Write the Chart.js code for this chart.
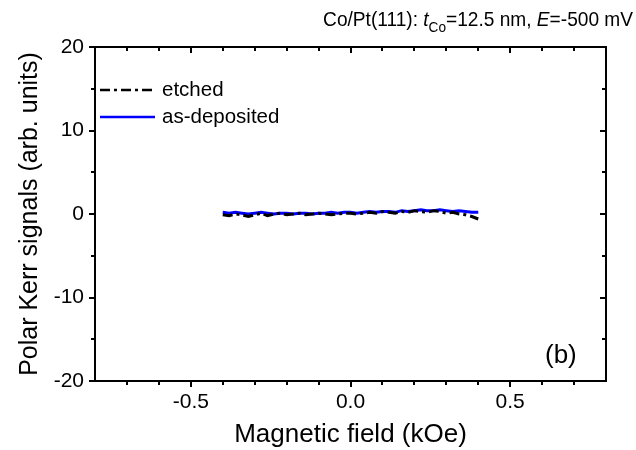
<!DOCTYPE html>
<html><head><meta charset="utf-8">
<script src="https://cdn.jsdelivr.net/npm/chart.js@4/dist/chart.umd.min.js"></script>
<style>html,body{margin:0;padding:0;background:#fff}canvas{display:block}</style>
</head><body>
<div style="width:636px;height:450px"><canvas id="c" width="636" height="450"></canvas></div>
<script>
// ---- data ----
const fieldKOe = [-0.40,-0.38,-0.36,-0.34,-0.32,-0.30,-0.28,-0.26,-0.24,-0.22,-0.20,-0.18,-0.16,-0.14,-0.12,-0.10,-0.08,-0.06,-0.04,-0.02,0.00,0.02,0.04,0.06,0.08,0.10,0.12,0.14,0.16,0.18,0.20,0.22,0.24,0.26,0.28,0.30,0.32,0.34,0.36,0.38,0.40];
const etched = [-0.1,-0.2,0.0,-0.1,-0.3,-0.1,0.1,-0.2,0.0,0.1,-0.1,0.0,0.1,-0.1,0.0,0.1,0.0,-0.1,0.0,0.1,0.1,0.0,0.1,0.2,0.1,0.3,0.2,0.1,0.3,0.2,0.4,0.3,0.2,0.4,0.3,0.1,0.2,0.0,-0.1,-0.3,-0.6];
const asDeposited = [0.2,0.1,0.2,0.1,0.0,0.1,0.2,0.1,0.0,0.1,0.1,0.0,0.1,0.1,0.0,0.1,0.1,0.2,0.1,0.2,0.2,0.1,0.2,0.3,0.2,0.3,0.3,0.2,0.4,0.3,0.4,0.5,0.4,0.4,0.5,0.4,0.3,0.4,0.3,0.2,0.2];
const seriesLabels = ['etched', 'as-deposited'];
const xMajorTicks = [-0.5, 0.0, 0.5];
const xMinorTicks = [-0.7,-0.6,-0.4,-0.3,-0.2,-0.1,0.1,0.2,0.3,0.4,0.6,0.7];
const yMajorTicks = [-20, -10, 0, 10, 20];
const yMinorTicks = [-15, -5, 5, 15];
const xTitle = 'Magnetic field (kOe)';
const yTitle = 'Polar Kerr signals (arb. units)';
const panelLabel = '(b)';
const titleParts = [
  {text: 'Co/Pt(111): ', kind: 'normal'},
  {text: 't', kind: 'italic'},
  {text: 'Co', kind: 'sub'},
  {text: '=12.5 nm, ', kind: 'normal'},
  {text: 'E', kind: 'italic'},
  {text: '=-500 mV', kind: 'normal'}
];

const FONT = "'Liberation Sans', Arial, sans-serif";
const dashDot = [10, 4, 3, 4];

const decorPlugin = {
  id: 'decor',
  afterDraw(chart) {
    const ctx = chart.ctx, a = chart.chartArea;
    const xs = chart.scales.x, ys = chart.scales.y;
    ctx.save();
    ctx.strokeStyle = '#000';
    ctx.lineWidth = 2;
    ctx.setLineDash([]);
    ctx.strokeRect(a.left, a.top, a.right - a.left, a.bottom - a.top);
    const maj = 6, min = 4;
    ctx.beginPath();
    const xt = (v, len) => {
      const p = Math.round(xs.getPixelForValue(v));
      ctx.moveTo(p, a.bottom); ctx.lineTo(p, a.bottom + len);
      ctx.moveTo(p, a.top); ctx.lineTo(p, a.top + len);
    };
    const yt = (v, len) => {
      const p = Math.round(ys.getPixelForValue(v));
      ctx.moveTo(a.left, p); ctx.lineTo(a.left - len, p);
      ctx.moveTo(a.right, p); ctx.lineTo(a.right - len, p);
    };
    xMajorTicks.forEach(v => xt(v, maj));
    xMinorTicks.forEach(v => xt(v, min));
    yMajorTicks.forEach(v => yt(v, maj));
    yMinorTicks.forEach(v => yt(v, min));
    ctx.stroke();

    // legend
    const ds = chart.data.datasets;
    const legendY = [90, 117];
    ds.forEach((d, i) => {
      ctx.beginPath();
      ctx.strokeStyle = d.borderColor;
      ctx.lineWidth = 2.5;
      ctx.setLineDash(d.borderDash || []);
      ctx.moveTo(100, legendY[i]); ctx.lineTo(155, legendY[i]);
      ctx.stroke();
      ctx.setLineDash([]);
      ctx.fillStyle = '#000';
      ctx.font = '20.5px ' + FONT;
      ctx.textBaseline = 'middle';
      ctx.textAlign = 'left';
      ctx.fillText(d.label, 162, legendY[i]);
    });

    // panel label
    ctx.font = '26px ' + FONT;
    ctx.textBaseline = 'middle';
    ctx.textAlign = 'left';
    ctx.fillText(panelLabel, 545, 356);

    // title (slightly condensed, right-aligned)
    const big = 21, small = 15, sx = 0.91;
    const fontFor = k => (k === 'italic' ? 'italic ' : '') + (k === 'sub' ? small : big) + 'px ' + FONT;
    let total = 0;
    titleParts.forEach(p => { ctx.font = fontFor(p.kind); total += ctx.measureText(p.text).width; });
    ctx.save();
    ctx.translate(633 - total * sx, 0);
    ctx.scale(sx, 1);
    let x = 0;
    ctx.textBaseline = 'alphabetic';
    titleParts.forEach(p => {
      ctx.font = fontFor(p.kind);
      ctx.fillText(p.text, x, p.kind === 'sub' ? 32 : 26);
      x += ctx.measureText(p.text).width;
    });
    ctx.restore();
    ctx.restore();
  }
};

new Chart(document.getElementById('c'), {
  type: 'line',
  data: {
    labels: fieldKOe,
    datasets: [
      {label: seriesLabels[0], data: fieldKOe.map((x, i) => ({x, y: etched[i]})), borderColor: '#000', borderWidth: 3, borderDash: dashDot, pointRadius: 0, tension: 0, fill: false},
      {label: seriesLabels[1], data: fieldKOe.map((x, i) => ({x, y: asDeposited[i]})), borderColor: '#0000ff', borderWidth: 3, pointRadius: 0, tension: 0, fill: false}
    ]
  },
  options: {
    responsive: false,
    animation: false,
    devicePixelRatio: 1,
    layout: {padding: {left: 0, right: 30, top: 47, bottom: 0}},
    plugins: {legend: {display: false}, title: {display: false}, tooltip: {enabled: false}},
    scales: {
      x: {
        type: 'linear', min: -0.8, max: 0.8,
        afterBuildTicks: s => { s.ticks = xMajorTicks.map(v => ({value: v})); },
        afterFit: s => { s.height = 69; },
        grid: {display: false, drawTicks: false},
        border: {display: false},
        ticks: {padding: 9, color: '#000', font: {family: FONT, size: 21}, maxRotation: 0,
          callback: v => Number(v).toFixed(1)},
        title: {display: true, text: xTitle, color: '#000', font: {family: FONT, size: 26}, padding: {top: 0, bottom: 0}}
      },
      y: {
        type: 'linear', min: -20, max: 20,
        afterBuildTicks: s => { s.ticks = yMajorTicks.map(v => ({value: v})); },
        afterFit: s => { s.width = 95; },
        grid: {display: false, drawTicks: false},
        border: {display: false},
        ticks: {padding: 11, color: '#000', font: {family: FONT, size: 21}},
        title: {display: true, text: yTitle, color: '#000', font: {family: FONT, size: 25}, padding: {top: 15, bottom: 0}}
      }
    }
  },
  plugins: [decorPlugin]
});
</script>
</body></html>
